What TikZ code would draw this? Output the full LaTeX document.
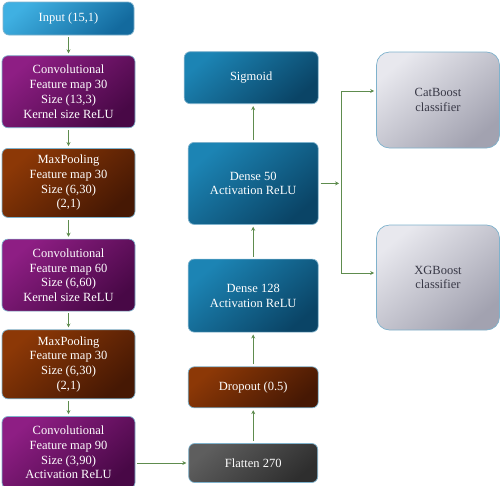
\documentclass[tikz,border=0pt]{standalone}
\usepackage{fontspec}
\setmainfont{Liberation Serif}
\usetikzlibrary{shapes, arrows.meta, positioning, calc}

\definecolor{edgeblue}{HTML}{7FB2CC}
\definecolor{linegreen}{HTML}{5E8C4E}
\definecolor{inputtop}{HTML}{3FB0E2}
\definecolor{inputbot}{HTML}{136A9E}
\definecolor{convtop}{HTML}{8E1E84}
\definecolor{convbot}{HTML}{480846}
\definecolor{pooltop}{HTML}{8C3806}
\definecolor{poolbot}{HTML}{461804}
\definecolor{densetop}{HTML}{1C84B4}
\definecolor{densebot}{HTML}{0A4466}
\definecolor{flattop}{HTML}{5E5E5E}
\definecolor{flatbot}{HTML}{2E2E2E}
\definecolor{clftop}{HTML}{E8E8EE}
\definecolor{clfbot}{HTML}{A2A2B0}
\definecolor{clftext}{HTML}{383846}

\begin{document}
\begin{tikzpicture}[x=1pt, y=1pt, node distance=19pt, >=Stealth, font=\fontsize{12.5}{14.7}\selectfont]
    % Styles
    \tikzstyle{layer} = [rectangle, draw=edgeblue, line width=0.7pt, rounded corners=6pt, align=center, text=white, inner sep=2pt]
    \tikzstyle{inlayer} = [layer, minimum width=131pt, minimum height=33pt, top color=inputtop, bottom color=inputbot, shading angle=40]
    \tikzstyle{conv} = [layer, minimum width=133pt, minimum height=72pt, top color=convtop, bottom color=convbot, shading angle=40]
    \tikzstyle{pool} = [layer, minimum width=133pt, minimum height=69pt, top color=pooltop, bottom color=poolbot, shading angle=40]
    \tikzstyle{dense} = [layer, minimum width=130pt, top color=densetop, bottom color=densebot, shading angle=40]
    \tikzstyle{flat} = [layer, minimum width=129pt, minimum height=39pt, top color=flattop, bottom color=flatbot, shading angle=40]
    \tikzstyle{classifier} = [layer, rounded corners=13pt, minimum width=123pt, text=clftext, top color=clftop, bottom color=clfbot, shading angle=40]
    \tikzstyle{arrow} = [draw=linegreen, line width=0.8pt, -{Stealth[length=4pt, width=4pt]}, shorten >=2pt, shorten <=2pt]

    \useasboundingbox (0,0) rectangle (500,-485);

    % Nodes
    \node[inlayer] (input) at (68.5,-18.5) {Input (15,1)};
    \node[conv, below=20pt of input] (conv1) {Convolutional\\Feature map 30\\Size (13,3)\\Kernel size ReLU};
    \node[pool, below=20pt of conv1] (pool1) {MaxPooling\\Feature map 30\\Size (6,30)\\(2,1)};
    \node[conv, below=21pt of pool1] (conv2) {Convolutional\\Feature map 60\\Size (6,60)\\Kernel size ReLU};
    \node[pool, below=18pt of conv2] (pool2) {MaxPooling\\Feature map 30\\Size (6,30)\\(2,1)};
    \node[conv, below=17pt of pool2] (conv3) {Convolutional\\Feature map 90\\Size (3,90)\\Activation ReLU};

    \node[flat, right=53pt of conv3, yshift=-10.5pt] (flatten) {Flatten 270};
    \node[layer, minimum width=130pt, minimum height=41pt, top color=pooltop, bottom color=poolbot, shading angle=40, above=35pt of flatten] (dropout) {Dropout (0.5)};
    \node[dense, minimum height=73pt, above=34pt of dropout] (dense128) {Dense 128\\Activation ReLU};
    \node[dense, minimum height=82pt, above=34pt of dense128] (dense50) {Dense 50\\Activation ReLU};
    \node[dense, minimum width=134pt, minimum height=52pt, above=38pt of dense50, xshift=-2pt] (sigmoid) {Sigmoid};

    \node[classifier, minimum height=96pt] (catboost) at (438,-100) {CatBoost\\classifier};
    \node[classifier, minimum height=105pt] (xgboost) at (438,-277.5) {XGBoost\\classifier};
    \coordinate[right=22.5pt of dense50] (split);

    % Edges
    \draw[arrow] (input) -- (conv1);
    \draw[arrow] (conv1) -- (pool1);
    \draw[arrow] (pool1) -- (conv2);
    \draw[arrow] (conv2) -- (pool2);
    \draw[arrow] (pool2) -- (conv3);
    \draw[arrow] (conv3.east |- flatten.west) -- (flatten.west);
    \draw[arrow] (flatten) -- (dropout);
    \draw[arrow] (dropout) -- (dense128);
    \draw[arrow] (dense128) -- (dense50);
    \draw[arrow] (dense50) -- (dense50 |- sigmoid.south);
    \draw[arrow] (dense50) -- (split);
    \draw[arrow, shorten <=0pt] (split) |- ([yshift=9pt]catboost.west);
    \draw[arrow, shorten <=0pt] (split) |- ([yshift=4.5pt]xgboost.west);

\end{tikzpicture}
\end{document}
